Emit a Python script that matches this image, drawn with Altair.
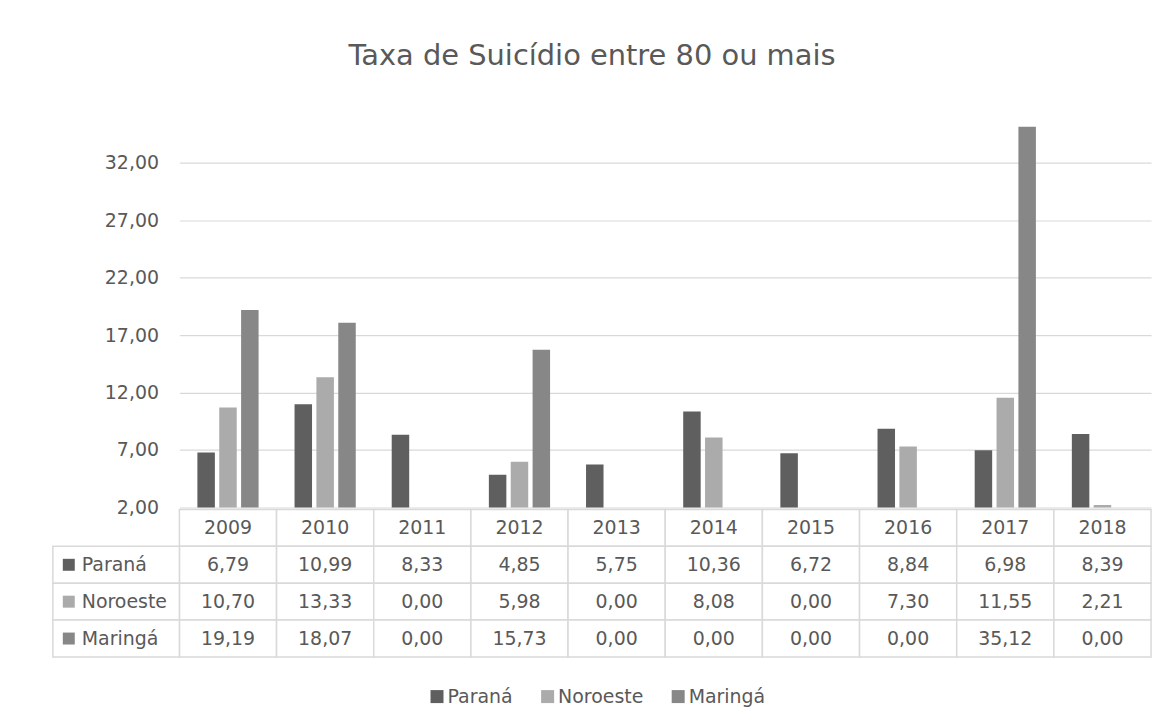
import altair as alt
import pandas as pd

years = ["2009", "2010", "2011", "2012", "2013", "2014", "2015", "2016", "2017", "2018"]
series = ["Paraná", "Noroeste", "Maringá"]
parana = [6.79, 10.99, 8.33, 4.85, 5.75, 10.36, 6.72, 8.84, 6.98, 8.39]
noroeste = [10.70, 13.33, 0.00, 5.98, 0.00, 8.08, 0.00, 7.30, 11.55, 2.21]
maringa = [19.19, 18.07, 0.00, 15.73, 0.00, 0.00, 0.00, 0.00, 35.12, 0.00]
colors = ["#5f5f5f", "#ababab", "#878787"]
y_ticks = [2, 7, 12, 17, 22, 27, 32]

FONT = "DejaVu Sans"
TXT = "#595959"
GRID = "#d9d9d9"

rows = []
for s, vals in zip(series, [parana, noroeste, maringa]):
    for y, v in zip(years, vals):
        rows.append({"year": y, "serie": s, "value": v})
df = pd.DataFrame(rows)

W = 975
H = 398

fmt = "replace(format(datum.value, '.2f'), '.', ',')"

bars = alt.Chart(df).mark_bar(clip=True).encode(
    x=alt.X("year:N", sort=years, axis=None,
            scale=alt.Scale(paddingInner=0.37, paddingOuter=0.185)),
    xOffset=alt.XOffset("serie:N", sort=series, scale=alt.Scale(paddingInner=0.2, paddingOuter=0)),
    y=alt.Y("value:Q", title=None,
            scale=alt.Scale(domain=[2, 36.5], nice=False, zero=False),
            axis=alt.Axis(values=y_ticks, labelExpr=fmt, domain=False, ticks=False,
                          grid=True, gridColor=GRID, gridWidth=1.2,
                          labelFont=FONT, labelFontSize=19, labelColor=TXT, labelPadding=21)),
    color=alt.Color("serie:N", sort=series, scale=alt.Scale(domain=series, range=colors), legend=None),
).properties(width=W, height=H)

# table
row_order = ["header"] + series
cells = []
for y in years:
    cells.append({"year": y, "row": "header", "label": y})
for s, vals in zip(series, [parana, noroeste, maringa]):
    for y, v in zip(years, vals):
        cells.append({"year": y, "row": s, "label": f"{v:.2f}".replace(".", ",")})
cdf = pd.DataFrame(cells)
ldf = pd.DataFrame({"row": series, "serie": series})

xs = alt.X("year:N", sort=years, axis=None, scale=alt.Scale(paddingInner=0, paddingOuter=0))
ys = alt.Y("row:N", sort=row_order, axis=None, scale=alt.Scale(domain=row_order, paddingInner=0, paddingOuter=0))

cell_rects = alt.Chart(cdf).mark_rect(fill="white", stroke=GRID, strokeWidth=1.5).encode(x=xs, y=ys)
cell_text = alt.Chart(cdf).mark_text(font=FONT, fontSize=19, color=TXT).encode(x=xs, y=ys, text="label:N")
label_rects = alt.Chart(ldf).mark_rect(fill="white", stroke=GRID, strokeWidth=1.5).encode(
    x=alt.value(-127), x2=alt.value(0), y=ys)
label_sq = alt.Chart(ldf).mark_square(size=144, opacity=1).encode(
    x=alt.value(-111), y=ys,
    color=alt.Color("serie:N", sort=series, scale=alt.Scale(domain=series, range=colors),
                    legend=alt.Legend(title=None, orient="none", direction="horizontal",
                                      legendX=249, legendY=178, symbolType="square", symbolSize=170,
                                      symbolStrokeWidth=0, labelFont=FONT, labelFontSize=19,
                                      labelColor=TXT, columnPadding=25, labelOffset=1)))
label_text = alt.Chart(ldf).mark_text(font=FONT, fontSize=19, color=TXT, align="left").encode(
    x=alt.value(-98), y=ys, text="serie:N")

table = alt.layer(cell_rects, label_rects, cell_text, label_sq, label_text).properties(width=W, height=148)

chart = alt.vconcat(bars, table, spacing=2, bounds="flush").resolve_scale(
    color="independent", x="independent").properties(
    title=alt.Title("Taxa de Suicídio entre 80 ou mais", font=FONT, fontSize=29, fontWeight="normal",
                    color=TXT, anchor="middle", offset=40, dx=-10),
    padding={"left": 44, "top": 33, "right": 10, "bottom": 10},
    background="white",
).configure_view(stroke="transparent", strokeWidth=0)

chart.save("out.html", embed_options={"renderer": "svg", "actions": False})
